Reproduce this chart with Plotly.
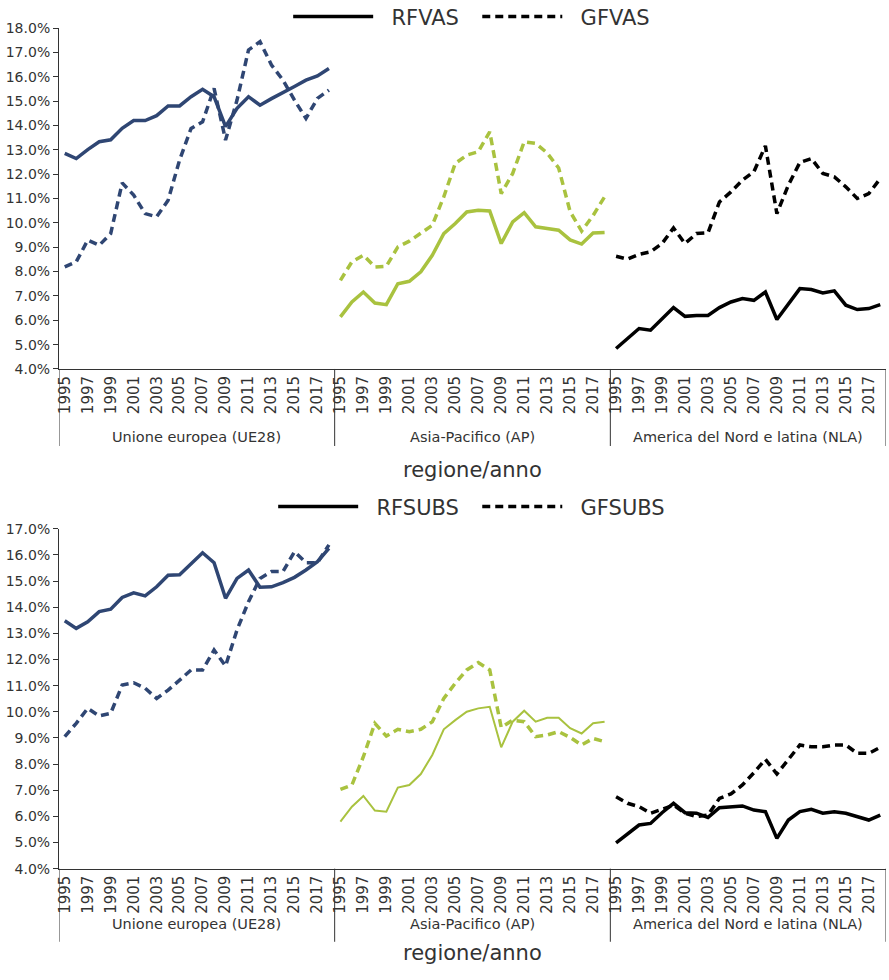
'''
RFVAS/GFVAS and RFSUBS/GFSUBS by region, 1995-2018
'''

import plotly.graph_objects as go
from plotly.subplots import make_subplots

years = list(range(1995, 2019))
regions = ['Unione europea (UE28)', 'Asia-Pacifico (AP)', 'America del Nord e latina (NLA)']
region_colors = ['#2F4673', '#A9C23F', '#000000']

# top panel (% values)
rfvas_ue = [12.85, 12.64, 13.01, 13.33, 13.41, 13.88, 14.20, 14.20, 14.40, 14.80, 14.80, 15.18,
            15.48, 15.18, 13.95, 14.70, 15.18, 14.83, 15.10, 15.34, 15.60, 15.86, 16.03, 16.34]
gfvas_ue = [8.19, 8.40, 9.29, 9.08, 9.56, 11.64, 11.14, 10.38, 10.25, 10.93, 12.58, 13.88,
            14.15, 15.52, 13.40, 15.04, 17.10, 17.44, 16.48, 15.86, 15.04, 14.29, 15.11, 15.45]
rfvas_ap = [6.14, 6.75, 7.16, 6.71, 6.64, 7.50, 7.60, 7.99, 8.67, 9.56, 9.97, 10.45,
            10.52, 10.49, 9.15, 10.04, 10.42, 9.84, 9.77, 9.70, 9.30, 9.13, 9.58, 9.60]
gfvas_ap = [7.64, 8.40, 8.67, 8.19, 8.22, 9.01, 9.25, 9.56, 9.90, 11.07, 12.44, 12.78,
            12.92, 13.74, 11.20, 12.03, 13.33, 13.26, 12.87, 12.25, 10.46, 9.66, 10.30, 11.07]
rfvas_nla = [4.84, 5.25, 5.66, 5.59, 6.07, 6.52, 6.16, 6.20, 6.20, 6.52, 6.75, 6.89,
             6.82, 7.16, 6.03, 6.66, 7.30, 7.26, 7.12, 7.21, 6.62, 6.44, 6.48, 6.64]
gfvas_nla = [8.63, 8.51, 8.71, 8.81, 9.15, 9.79, 9.15, 9.56, 9.59, 10.86, 11.27, 11.75,
             12.10, 13.16, 10.38, 11.55, 12.48, 12.64, 12.03, 11.89, 11.48, 11.00, 11.20, 11.82]

# bottom panel (% values)
rfsubs_ue = [13.48, 13.19, 13.44, 13.83, 13.92, 14.37, 14.55, 14.43, 14.78, 15.22, 15.24, 15.67,
             16.08, 15.70, 14.34, 15.10, 15.42, 14.76, 14.78, 14.94, 15.14, 15.42, 15.74, 16.25]
gfsubs_ue = [9.05, 9.56, 10.13, 9.84, 9.94, 11.02, 11.11, 10.90, 10.51, 10.83, 11.21, 11.60,
             11.60, 12.36, 11.75, 13.13, 14.21, 15.10, 15.36, 15.36, 16.12, 15.70, 15.70, 16.38]
rfsubs_ap = [5.80, 6.37, 6.78, 6.22, 6.18, 7.10, 7.20, 7.62, 8.35, 9.33, 9.68, 10.00,
             10.13, 10.19, 8.64, 9.62, 10.04, 9.62, 9.77, 9.77, 9.37, 9.17, 9.56, 9.62]
gfsubs_ap = [7.03, 7.20, 8.28, 9.56, 9.07, 9.33, 9.24, 9.33, 9.62, 10.51, 11.09, 11.60,
             11.88, 11.60, 9.40, 9.68, 9.62, 9.05, 9.11, 9.24, 9.02, 8.73, 8.98, 8.86]
rfsubs_nla = [4.99, 5.35, 5.67, 5.73, 6.14, 6.50, 6.14, 6.12, 5.96, 6.33, 6.37, 6.40,
              6.24, 6.18, 5.16, 5.86, 6.18, 6.27, 6.12, 6.18, 6.12, 5.99, 5.86, 6.05]
gfsubs_nla = [6.75, 6.50, 6.37, 6.12, 6.27, 6.43, 6.12, 5.99, 6.05, 6.69, 6.86, 7.20,
              7.67, 8.18, 7.62, 8.18, 8.73, 8.66, 8.66, 8.73, 8.73, 8.41, 8.41, 8.64]

panels = [
    ('RFVAS', 'GFVAS', [rfvas_ue, rfvas_ap, rfvas_nla], [gfvas_ue, gfvas_ap, gfvas_nla], 18),
    ('RFSUBS', 'GFSUBS', [rfsubs_ue, rfsubs_ap, rfsubs_nla], [gfsubs_ue, gfsubs_ap, gfsubs_nla], 17),
]

FONT = 'DejaVu Sans'
DASH = '8px,5px'
NB = '\u00a0\u00a0'  # a bit of room between legend line and label
n = len(years)

fig = make_subplots(rows=2, cols=1, vertical_spacing=0.0)

for row, (r_name, g_name, r_series, g_series, ymax) in enumerate(panels, start=1):
    legend_id = 'legend' if row == 1 else 'legend2'
    for k, color in enumerate(region_colors):
        xs = [k * n + j for j in range(n)]
        # thin solid line for AP in the bottom panel, as in the source
        solid_w = 2 if (row == 2 and k == 1) else 3.5
        fig.add_trace(go.Scatter(x=xs, y=r_series[k], mode='lines', showlegend=False,
                                 line=dict(color=color, width=solid_w)), row=row, col=1)
        fig.add_trace(go.Scatter(x=xs, y=g_series[k], mode='lines', showlegend=False,
                                 line=dict(color=color, width=3.5, dash=DASH)), row=row, col=1)
    # legend entries in black
    fig.add_trace(go.Scatter(x=[None], y=[None], mode='lines', name=NB + r_name + NB,
                             legend=legend_id, line=dict(color='black', width=3.5)), row=row, col=1)
    fig.add_trace(go.Scatter(x=[None], y=[None], mode='lines', name=NB + g_name, legend=legend_id,
                             line=dict(color='black', width=3.5, dash=DASH)), row=row, col=1)

# x ticks: every other year in each region
tickvals, ticktext = [], []
for k in range(len(regions)):
    for j, yr in enumerate(years):
        if j % 2 == 0:
            tickvals.append(k * n + j)
            ticktext.append(str(yr))

axis_col = '#333333'
for row in (1, 2):
    fig.update_xaxes(range=[-0.5, 3 * n - 0.5], tickvals=tickvals, ticktext=ticktext,
                     tickangle=-90, showgrid=False, zeroline=False, showline=True,
                     linecolor=axis_col, linewidth=1, ticks='', automargin=False,
                     tickfont=dict(family=FONT, size=15, color=axis_col), row=row, col=1)

fig.update_yaxes(range=[4, 18], dtick=1, row=1, col=1)
fig.update_yaxes(range=[4, 17], dtick=1, row=2, col=1)
fig.update_yaxes(tickformat='.1f', ticksuffix='%', showgrid=False, zeroline=False,
                 showline=True, linecolor=axis_col, linewidth=1, ticks='outside',
                 ticklen=5, tickcolor=axis_col, automargin=False,
                 tickfont=dict(family=FONT, size=14, color=axis_col))

fig.update_layout(
    xaxis=dict(domain=[0, 1]), xaxis2=dict(domain=[0, 1]),
    yaxis=dict(domain=[0.6235, 0.9714]),
    yaxis2=dict(domain=[0.1136, 0.4605]),
)

# region separators, group labels and axis titles
sep = [(0.6235, 0.5449, 0.554, 0.5204), (0.1136, 0.039, 0.0469, 0.0133)]
for row, (y0, y1, ylab, ytitle) in enumerate(sep, start=1):
    xref = 'x' if row == 1 else 'x2'
    for k in range(len(regions) + 1):
        fig.add_shape(type='line', xref=xref, yref='paper', x0=k * n - 0.5, x1=k * n - 0.5,
                      y0=y0, y1=y1, line=dict(color=axis_col, width=1))
    for k, reg in enumerate(regions):
        fig.add_annotation(text=reg, xref=xref, yref='paper', x=k * n + (n - 1) / 2, y=ylab,
                           showarrow=False, font=dict(family=FONT, size=14.5, color=axis_col))
    fig.add_annotation(text='regione/anno', xref='paper', yref='paper', x=0.5, y=ytitle,
                       showarrow=False, font=dict(family=FONT, size=21, color=axis_col))

legend_style = dict(orientation='h', xanchor='center', x=0.499, yanchor='middle',
                    font=dict(family=FONT, size=21, color=axis_col), itemwidth=80,
                    bgcolor='rgba(0,0,0,0)')
fig.update_layout(
    legend=dict(legend_style, y=0.9827),
    legend2=dict(legend_style, y=0.4827),
    width=889, height=980,
    margin=dict(l=59, r=3, t=0, b=0, autoexpand=False),
    plot_bgcolor='white', paper_bgcolor='white',
    font=dict(family=FONT),
)

# page body has a default 8px margin; drop it so the figure sits at the window origin
fig.write_html('out.html', config={'displayModeBar': False},
               post_script="document.body.style.margin='0';")
